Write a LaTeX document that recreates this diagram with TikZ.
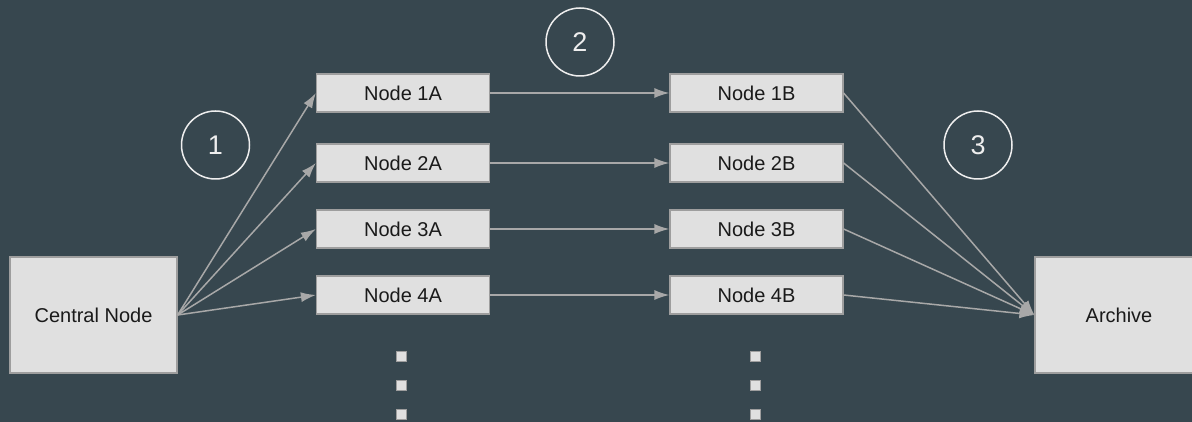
\documentclass[tikz,border=0pt]{standalone}
\usepackage{fontspec}
\setmainfont{Liberation Sans}
\usetikzlibrary{arrows.meta}
\definecolor{bg}{HTML}{37474F}
\definecolor{boxfill}{HTML}{E0E0E0}
\definecolor{boxline}{HTML}{9E9E9E}
\definecolor{arr}{HTML}{A8A8A8}
\definecolor{txt}{HTML}{1A1A1A}
\definecolor{circ}{HTML}{EEEEEE}
\tikzset{
  box/.style={draw=boxline, line width=1.2pt, fill=boxfill, text=txt, inner sep=0pt,
    font=\fontsize{20}{24}\selectfont},
  smallbox/.style={box, minimum width=173pt, minimum height=38pt},
  conn/.style={draw=arr, line width=1.5pt, -{Latex[length=15pt,width=10pt]}},
  num/.style={circle, draw=circ, line width=1.5pt, minimum size=68pt, inner sep=0pt,
    text=circ, font=\fontsize{27}{30}\selectfont},
  dot/.style={fill=boxfill, draw=boxline, line width=0.6pt, minimum size=10pt, inner sep=0pt}
}
\begin{document}
\begin{tikzpicture}[x=1pt,y=-1pt]
\fill[bg] (0,0) rectangle (1192,422);
\useasboundingbox (0,0) rectangle (1192,422);
\begin{scope}
\clip (0,0) rectangle (1192,422);
\node[box, minimum width=167pt, minimum height=116pt] (central) at (93.5,315) {Central Node};
\node[box, minimum width=168pt, minimum height=116pt] (archive) at (1119,315) {Archive};
\foreach \i/\y in {1/93,2/163,3/229,4/295}{
  \node[smallbox] (a\i) at (403,\y) {Node \i A};
  \node[smallbox] (b\i) at (756.5,\y) {Node \i B};
}
\foreach \i in {1,2,3,4}{
  \draw[conn] (central.east) -- (a\i.west);
  \draw[conn] (a\i.east) -- (b\i.west);
  \draw[conn] (b\i.east) -- (archive.west);
}
\node[num] (c1) at (215.5,145) {1};
\node[num] (c2) at (580,42) {2};
\node[num] (c3) at (978,145) {3};
\foreach \j/\y in {1/356,2/385,3/414}{
  \node[dot] (da\j) at (401,\y) {};
  \node[dot] (db\j) at (755,\y) {};
}
\end{scope}
\end{tikzpicture}
\end{document}
